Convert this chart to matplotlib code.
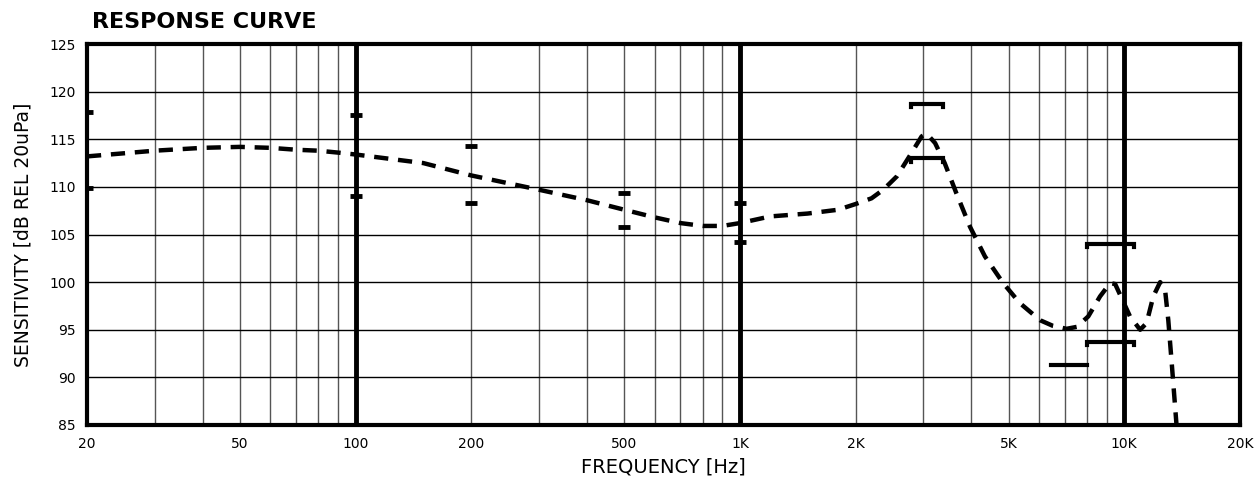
import matplotlib
matplotlib.use("Agg")
from matplotlib import pyplot as plt
from matplotlib.ticker import FixedLocator, NullLocator

# response curve (Hz, dB)
freq = [20, 30, 40, 50, 60, 70, 80, 90, 100, 150, 200, 300, 400, 500, 600,
        700, 800, 900, 1000, 1200, 1500, 1800, 2000, 2200, 2360, 2560, 2770,
        2970, 3060, 3220, 3410, 3660, 3970, 4340, 4840, 5350, 6040, 6530,
        7080, 7520, 8060, 8650, 9190, 9470, 9850, 10350, 11000, 11430, 11900,
        12400, 12770, 13020, 13290, 13690]
sens = [113.2, 113.8, 114.1, 114.2, 114.1, 113.9, 113.8, 113.6, 113.4, 112.5,
        111.2, 109.7, 108.6, 107.6, 106.8, 106.2, 105.9, 105.9, 106.2, 106.9,
        107.2, 107.6, 108.2, 108.8, 109.7, 111.1, 113.3, 115.3, 115.6, 114.6,
        112.5, 109.3, 105.8, 102.7, 99.9, 97.8, 96.0, 95.4, 95.1, 95.3, 96.4,
        98.5, 99.9, 99.8, 98.3, 96.4, 95.0, 95.7, 98.5, 100.0, 99.2, 96.0,
        91.5, 84.8]

# tolerance marks at single frequencies
tol_freq = [20, 20, 100, 100, 200, 200, 500, 500, 1000, 1000]
tol_db = [117.9, 109.9, 117.5, 109.0, 114.3, 108.3, 109.4, 105.8, 108.3, 104.2]

# tolerance brackets: (f_start, f_end, dB)
brackets = [(2790, 3380, 118.7), (2790, 3380, 113.0),
            (8000, 10600, 104.0), (8000, 10600, 93.7)]
low_limit = (6440, 8000, 91.3)

xticks = [20, 50, 100, 200, 500, 1000, 2000, 5000, 10000, 20000]
xlabels = ['20', '50', '100', '200', '500', '1K', '2K', '5K', '10K', '20K']
yticks = [85, 90, 95, 100, 105, 110, 115, 120, 125]

minor = [30, 40, 50, 60, 70, 80, 90, 200, 300, 400, 500, 600, 700, 800, 900,
         2000, 3000, 4000, 5000, 6000, 7000, 8000, 9000]
decades = [100, 1000, 10000]

fig = plt.figure(figsize=(12.55, 4.88), dpi=100)
ax = fig.add_axes([0.0693, 0.1291, 0.9187, 0.7807])
ax.set_xscale('log')
ax.set_xlim(20, 20000)
ax.set_ylim(85, 125)

for f in minor:
    ax.axvline(f, color='#555555', lw=1.0, zorder=1)
for f in decades:
    ax.axvline(f, color='black', lw=3.5, zorder=2)
for v in yticks[1:-1]:
    ax.axhline(v, color='black', lw=1.0, zorder=1)

ax.plot(freq, sens, color='black', lw=3.2, linestyle=(0, (3.2, 2.2)), zorder=4)

ax.plot(tol_freq, tol_db, linestyle='none', marker='_', markersize=8,
        markeredgewidth=3.5, color='black', zorder=5)

for f0, f1, v in brackets:
    ax.plot([f0, f0, f1, f1], [v - 0.35, v, v, v - 0.35], color='black',
            lw=3, solid_joinstyle='miter', zorder=5)
ax.plot([low_limit[0], low_limit[1]], [low_limit[2]] * 2, color='black',
        lw=3, zorder=5)

for s in ax.spines.values():
    s.set_linewidth(3)
    s.set_zorder(6)

ax.xaxis.set_major_locator(FixedLocator(xticks))
ax.xaxis.set_minor_locator(NullLocator())
ax.set_xticklabels(xlabels)
ax.set_yticks(yticks)
ax.tick_params(axis='both', length=0, labelsize=10)
ax.tick_params(axis='x', pad=9)
ax.tick_params(axis='y', pad=8)

ax.set_xlabel('FREQUENCY [Hz]', fontsize=14, labelpad=4)
ax.set_ylabel('SENSITIVITY [dB REL 20uPa]', fontsize=13.5, labelpad=12)

fig.text(0.073, 0.935, 'RESPONSE CURVE', fontsize=16, fontweight='bold',
         ha='left', va='bottom')

fig.savefig('out.png', dpi=100)
